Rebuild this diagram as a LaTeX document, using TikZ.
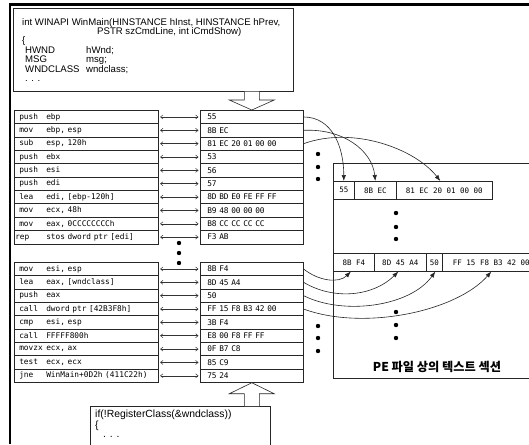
\documentclass[tikz,border=0pt]{standalone}
\usepackage{fontspec}
\setmainfont{Liberation Sans}
\newfontfamily\asmfont{DejaVu Sans Mono}
\newfontfamily\krfont{Noto Sans CJK KR}
\usetikzlibrary{arrows.meta,calc}
\newcommand{\ins}[2]{\makebox[27pt][l]{#1}#2}
\begin{document}
\begin{tikzpicture}[x=1pt,y=-1pt,
  line/.style={draw=black!85, line width=0.6pt},
  asmrow/.style={line, rectangle, anchor=north west, minimum height=13.35pt, text width=134pt, inner xsep=5pt, inner ysep=0pt, align=left, font=\asmfont\fontsize{7.8}{9}\selectfont},
  hexrow/.style={line, rectangle, anchor=north west, minimum height=13.35pt, text width=89pt, inner xsep=7pt, inner ysep=0pt, align=left, font=\asmfont\fontsize{7.8}{9}\selectfont},
  cell/.style={line, rectangle, anchor=north west, minimum height=18pt, inner sep=0pt, font=\asmfont\fontsize{7.5}{9}\selectfont},
  dbl/.style={draw=black!80, line width=0.5pt, {Straight Barb[length=2.5pt,width=4pt]}-{Straight Barb[length=2.5pt,width=4pt]}, shorten <=1.5pt, shorten >=1.5pt},
  curv/.style={draw=black!85, line width=0.6pt, -{Latex[length=6pt,width=4.5pt]}},
  hollow/.style={draw=black!85, line width=0.6pt, fill=white},
  code/.style={anchor=base west, inner sep=0pt, font=\fontsize{9.6}{11}\selectfont},
  codeb/.style={anchor=base west, inner sep=0pt, font=\fontsize{10.4}{12}\selectfont},
  dot/.style={fill=black}
]
\useasboundingbox (0,0) rectangle (529,444);
\clip (0,0) rectangle (529,444);
\fill[white] (0,0) rectangle (529,444);
% frame
\draw[line width=2.2pt] (10,444) -- (10,4.5) -- (529,4.5);

% top code box
\node[line, anchor=north west, minimum width=280pt, minimum height=83pt, inner sep=0pt] (top) at (13,8) {};
\node[code] (t1) at (22,25.2) {int WINAPI WinMain(HINSTANCE hInst, HINSTANCE hPrev,};
\node[code] (t2) at (97,34.2) {PSTR szCmdLine, int iCmdShow)};
\node[code] (t3) at (22,43.2) {\{};
\node[code] (t4) at (25,53) {\makebox[61pt][l]{HWND}hWnd;};
\node[code] (t5) at (25,62.5) {\makebox[61pt][l]{MSG}msg;};
\node[code] (t6) at (25,72) {\makebox[61pt][l]{WNDCLASS}wndclass;};
\node[code] (t7) at (25,81) {. . .};

% first assembly table
\node[asmrow] (L1) at (14,110) {\ins{push}{ebp}};
\node[asmrow] (L2) at (14,123.35) {\ins{mov}{ebp, esp}};
\node[asmrow] (L3) at (14,136.7) {\ins{sub}{esp, 120h}};
\node[asmrow] (L4) at (14,150.05) {\ins{push}{ebx}};
\node[asmrow] (L5) at (14,163.4) {\ins{push}{esi}};
\node[asmrow] (L6) at (14,176.75) {\ins{push}{edi}};
\node[asmrow] (L7) at (14,190.1) {\ins{lea}{edi, [ebp-120h]}};
\node[asmrow] (L8) at (14,203.45) {\ins{mov}{ecx, 48h}};
\node[asmrow] (L9) at (14,216.8) {\ins{mov}{eax, 0CCCCCCCCh}};
\node[asmrow] (L10) at (14,230.15) {\hspace*{-4pt}\makebox[31pt][l]{rep}stos dword ptr [edi]};

\node[hexrow] (H1) at (200,110) {55};
\node[hexrow] (H2) at (200,123.35) {8B EC};
\node[hexrow] (H3) at (200,136.7) {81 EC 20 01 00 00};
\node[hexrow] (H4) at (200,150.05) {53};
\node[hexrow] (H5) at (200,163.4) {56};
\node[hexrow] (H6) at (200,176.75) {57};
\node[hexrow] (H7) at (200,190.1) {8D BD E0 FE FF FF};
\node[hexrow] (H8) at (200,203.45) {B9 48 00 00 00};
\node[hexrow] (H9) at (200,216.8) {B8 CC CC CC CC};
\node[hexrow] (H10) at (200,230.15) {F3 AB};

\foreach \i in {1,...,10} { \draw[dbl] (L\i.east) -- (H\i.west); }

% second assembly table
\node[asmrow] (M1) at (14,262) {\ins{mov}{esi, esp}};
\node[asmrow] (M2) at (14,275.35) {\ins{lea}{eax, [wndclass]}};
\node[asmrow] (M3) at (14,288.7) {\ins{push}{eax}};
\node[asmrow] (M4) at (14,302.05) {\ins{call}{dword ptr [42B3F8h]}};
\node[asmrow] (M5) at (14,315.4) {\ins{cmp}{esi, esp}};
\node[asmrow] (M6) at (14,328.75) {\ins{call}{FFFFF800h}};
\node[asmrow] (M7) at (14,342.1) {\ins{movzx}{ecx, ax}};
\node[asmrow] (M8) at (14,355.45) {\ins{test}{ecx, ecx}};
\node[asmrow] (M9) at (14,368.8) {\ins{jne}{WinMain+0D2h (411C22h)}};

\node[hexrow] (G1) at (200,262) {8B F4};
\node[hexrow] (G2) at (200,275.35) {8D 45 A4};
\node[hexrow] (G3) at (200,288.7) {50};
\node[hexrow] (G4) at (200,302.05) {FF 15 F8 B3 42 00};
\node[hexrow] (G5) at (200,315.4) {3B F4};
\node[hexrow] (G6) at (200,328.75) {E8 00 F8 FF FF};
\node[hexrow] (G7) at (200,342.1) {0F B7 C8};
\node[hexrow] (G8) at (200,355.45) {85 C9};
\node[hexrow] (G9) at (200,368.8) {75 24};

\foreach \i in {1,...,9} { \draw[dbl] (M\i.east) -- (G\i.west); }

% bottom code box
\node[line, anchor=north west, minimum width=180pt, minimum height=40pt, inner sep=0pt] (bot) at (90,406) {};
\node[codeb] (b1) at (95,417) {if(!RegisterClass(\&wndclass))};
\node[codeb] (b2) at (95,428.5) {\{};
\node[codeb] (b3) at (103,437.5) {. . .};

% hollow arrows
\coordinate (ta) at (H1.north);
\draw[hollow] ($(ta|-top.south)+(-7.5,0)$) -- ($(ta)+(-7.5,-10)$) -- ($(ta)+(-22.5,-10)$) -- (ta) -- ($(ta)+(22.5,-10)$) -- ($(ta)+(7.5,-10)$) -- ($(ta|-top.south)+(7.5,0)$);
\coordinate (tb) at (G9.south);
\draw[hollow] ($(tb|-bot.north)+(-7.5,0)$) -- ($(tb)+(-7.5,11)$) -- ($(tb)+(-22.5,11)$) -- (tb) -- ($(tb)+(22.5,11)$) -- ($(tb)+(7.5,11)$) -- ($(tb|-bot.north)+(7.5,0)$);

% PE box
\node[line, anchor=north west, minimum width=260pt, minimum height=215pt, inner sep=0pt] (pe) at (333,163) {};
\node[font=\krfont\bfseries\fontsize{12.2}{14}\selectfont, inner sep=0pt] (pelabel) at (437,367) {PE 파일 상의 텍스트 섹션};

\node[cell, minimum width=21pt] (S1a) at (333,181) {55};
\node[cell, minimum width=42pt] (S1b) at (354,181) {8B EC};
\node[cell, minimum width=96pt] (S1c) at (396,181) {81 EC 20 01 00 00};

\node[cell, minimum width=41pt] (S2a) at (333,253) {8B F4};
\node[cell, minimum width=52pt] (S2b) at (374,253) {8D 45 A4};
\node[cell, minimum width=16pt] (S2c) at (426,253) {50};
\node[cell, minimum width=98pt] (S2d) at (442,253) {FF 15 F8 B3 42 00};

% dots
\foreach \y in {243,253,263} { \fill[dot] (179,\y) circle (2.2); }
\foreach \y in {154,167,179} { \fill[dot] (318,\y) circle (2.2); }
\foreach \y in {326,338,351} { \fill[dot] (318,\y) circle (2.2); }
\foreach \y in {213,227,239} { \fill[dot] (396,\y) circle (2.2); }
\foreach \y in {312,325,338} { \fill[dot] (396,\y) circle (2.2); }

% curved arrows (top)
\draw[curv] (H1.east) .. controls +(28,0) and +(0,-35) .. (S1a.north);
\draw[curv] (H2.east) .. controls +(40,-2) and +(-3,-30) .. (S1b.north);
\draw[curv] (H3.east) .. controls +(50,-18) and +(-25,-32) .. ([xshift=-4pt]S1c.north);

% curved arrows (bottom)
\draw[curv] (G1.east) .. controls +(15,12) and +(-12,12) .. ([xshift=-3pt]S2a.south);
\draw[curv] (G2.east) .. controls +(30,18) and +(-25,25) .. ([xshift=-2pt]S2b.south);
\draw[curv] (G3.east) .. controls +(40,20) and +(-25,35) .. ([xshift=1pt]S2c.south);
\draw[curv] (G4.east) .. controls +(60,22) and +(-35,40) .. (S2d.south);
\end{tikzpicture}
\end{document}
